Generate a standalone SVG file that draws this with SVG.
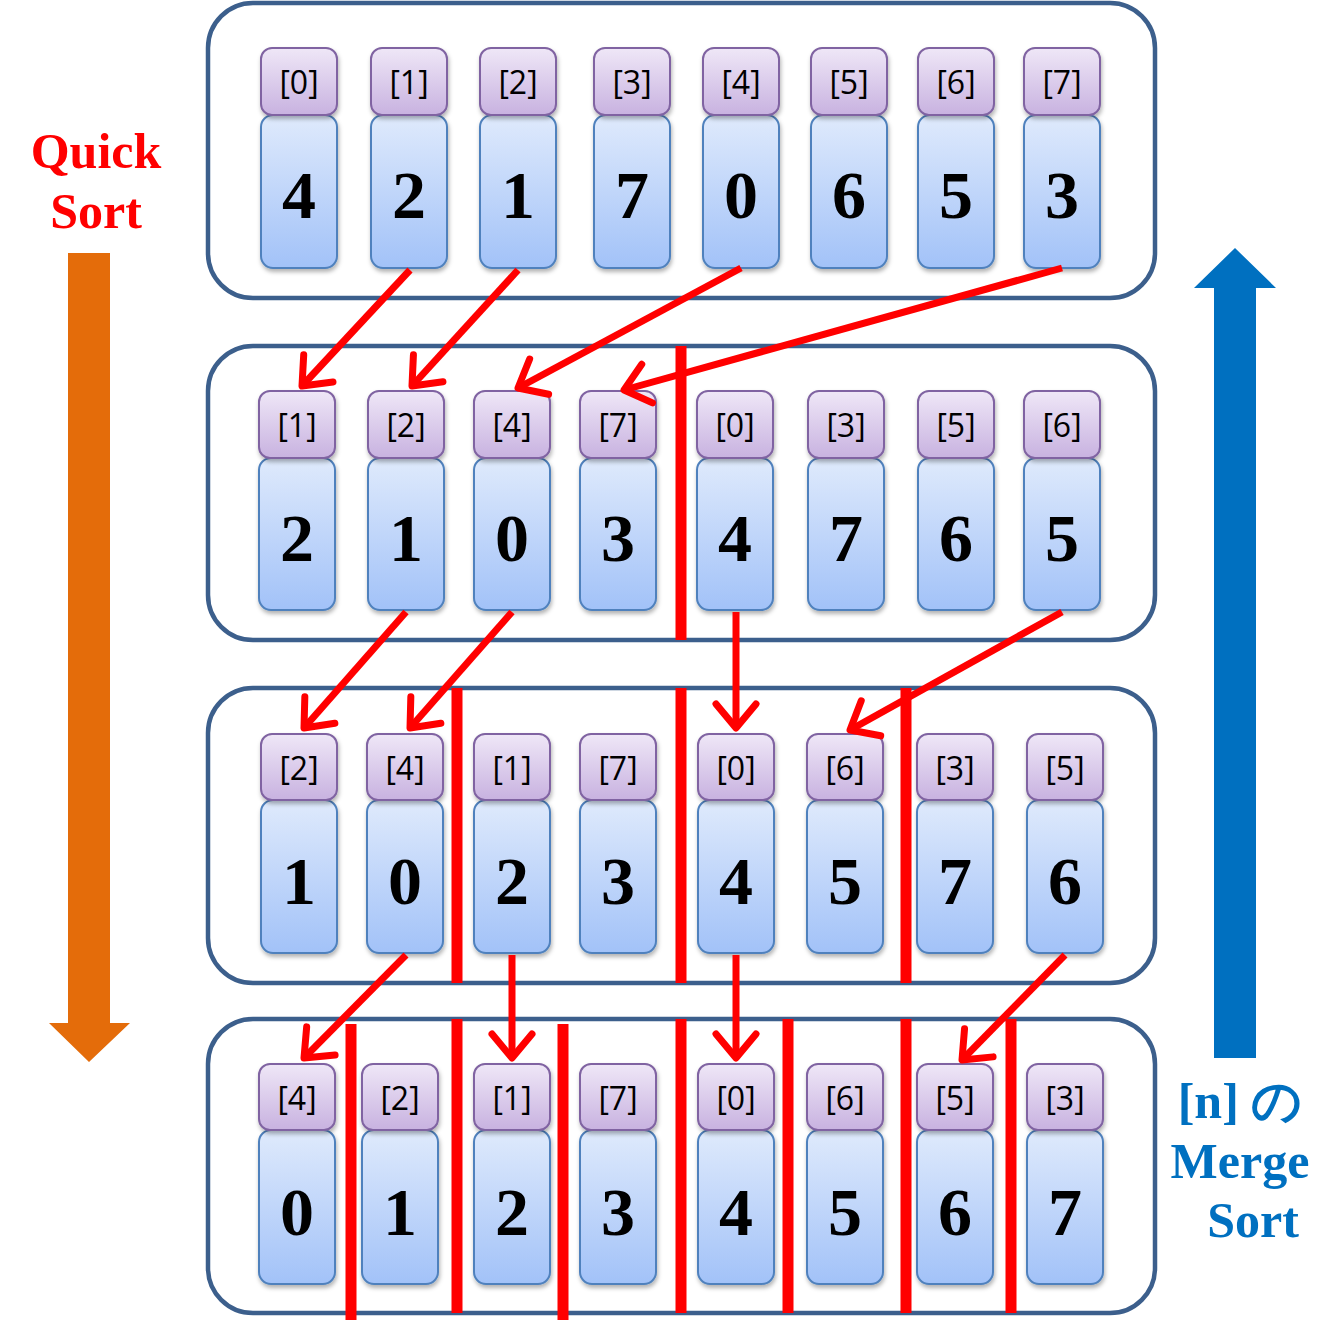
<svg xmlns="http://www.w3.org/2000/svg" width="1340" height="1320" viewBox="0 0 1340 1320">
<defs>
<linearGradient id="gi" x1="0" y1="0" x2="0" y2="1"><stop offset="0" stop-color="#efe7f7"/><stop offset="1" stop-color="#c8b2e0"/></linearGradient>
<linearGradient id="gv" x1="0" y1="0" x2="0" y2="1"><stop offset="0" stop-color="#dfeafc"/><stop offset="1" stop-color="#a2c2f8"/></linearGradient>
<filter id="sh" x="-20%" y="-20%" width="140%" height="140%"><feDropShadow dx="1" dy="3" stdDeviation="2" flood-color="#000" flood-opacity="0.3"/></filter>
<marker id="ah" markerUnits="userSpaceOnUse" markerWidth="60" markerHeight="60" refX="30" refY="30" orient="auto" viewBox="0 0 60 60"><path d="M6,10 L30,30 L6,50" fill="none" stroke="#ff0000" stroke-width="7" stroke-linecap="round" stroke-linejoin="round"/></marker>
<style>
.panel{fill:#fff;stroke:#3c5f8c;stroke-width:4.5}
.ib{fill:url(#gi);stroke:#8064a2;stroke-width:2;filter:url(#sh)}
.vb{fill:url(#gv);stroke:#4f81bd;stroke-width:2;filter:url(#sh)}
.it{font-family:"Open Sans","Liberation Sans",sans-serif;font-size:32px;fill:#000;text-anchor:middle}
.vt{font-family:"Liberation Serif",serif;font-weight:bold;font-size:68px;fill:#000;text-anchor:middle}
.sep{stroke:#ff0000;stroke-width:11}
.arr{stroke:#ff0000;stroke-width:7;fill:none;marker-end:url(#ah)}
.lab{font-family:"Liberation Serif",serif;font-weight:bold;font-size:50px}
</style>
</defs>
<rect class="panel" x="208" y="3" width="947" height="295" rx="45"/>
<rect class="panel" x="208" y="346" width="947" height="294" rx="45"/>
<rect class="panel" x="208" y="688" width="947" height="295" rx="45"/>
<rect class="panel" x="208" y="1019" width="947" height="294" rx="45"/>
<g id="row1">
<g id="r1c0"><rect class="vb" x="261" y="115" width="76" height="153" rx="12"/><rect class="ib" x="261" y="48" width="76" height="67" rx="11"/><text class="it" x="299" y="94">[0]</text><text class="vt" x="299" y="218">4</text></g>
<g id="r1c1"><rect class="vb" x="371" y="115" width="76" height="153" rx="12"/><rect class="ib" x="371" y="48" width="76" height="67" rx="11"/><text class="it" x="409" y="94">[1]</text><text class="vt" x="409" y="218">2</text></g>
<g id="r1c2"><rect class="vb" x="480" y="115" width="76" height="153" rx="12"/><rect class="ib" x="480" y="48" width="76" height="67" rx="11"/><text class="it" x="518" y="94">[2]</text><text class="vt" x="518" y="218">1</text></g>
<g id="r1c3"><rect class="vb" x="594" y="115" width="76" height="153" rx="12"/><rect class="ib" x="594" y="48" width="76" height="67" rx="11"/><text class="it" x="632" y="94">[3]</text><text class="vt" x="632" y="218">7</text></g>
<g id="r1c4"><rect class="vb" x="703" y="115" width="76" height="153" rx="12"/><rect class="ib" x="703" y="48" width="76" height="67" rx="11"/><text class="it" x="741" y="94">[4]</text><text class="vt" x="741" y="218">0</text></g>
<g id="r1c5"><rect class="vb" x="811" y="115" width="76" height="153" rx="12"/><rect class="ib" x="811" y="48" width="76" height="67" rx="11"/><text class="it" x="849" y="94">[5]</text><text class="vt" x="849" y="218">6</text></g>
<g id="r1c6"><rect class="vb" x="918" y="115" width="76" height="153" rx="12"/><rect class="ib" x="918" y="48" width="76" height="67" rx="11"/><text class="it" x="956" y="94">[6]</text><text class="vt" x="956" y="218">5</text></g>
<g id="r1c7"><rect class="vb" x="1024" y="115" width="76" height="153" rx="12"/><rect class="ib" x="1024" y="48" width="76" height="67" rx="11"/><text class="it" x="1062" y="94">[7]</text><text class="vt" x="1062" y="218">3</text></g>
</g>
<g id="row2">
<g id="r2c0"><rect class="vb" x="259" y="458" width="76" height="152" rx="12"/><rect class="ib" x="259" y="391" width="76" height="67" rx="11"/><text class="it" x="297" y="437">[1]</text><text class="vt" x="297" y="561">2</text></g>
<g id="r2c1"><rect class="vb" x="368" y="458" width="76" height="152" rx="12"/><rect class="ib" x="368" y="391" width="76" height="67" rx="11"/><text class="it" x="406" y="437">[2]</text><text class="vt" x="406" y="561">1</text></g>
<g id="r2c2"><rect class="vb" x="474" y="458" width="76" height="152" rx="12"/><rect class="ib" x="474" y="391" width="76" height="67" rx="11"/><text class="it" x="512" y="437">[4]</text><text class="vt" x="512" y="561">0</text></g>
<g id="r2c3"><rect class="vb" x="580" y="458" width="76" height="152" rx="12"/><rect class="ib" x="580" y="391" width="76" height="67" rx="11"/><text class="it" x="618" y="437">[7]</text><text class="vt" x="618" y="561">3</text></g>
<g id="r2c4"><rect class="vb" x="697" y="458" width="76" height="152" rx="12"/><rect class="ib" x="697" y="391" width="76" height="67" rx="11"/><text class="it" x="735" y="437">[0]</text><text class="vt" x="735" y="561">4</text></g>
<g id="r2c5"><rect class="vb" x="808" y="458" width="76" height="152" rx="12"/><rect class="ib" x="808" y="391" width="76" height="67" rx="11"/><text class="it" x="846" y="437">[3]</text><text class="vt" x="846" y="561">7</text></g>
<g id="r2c6"><rect class="vb" x="918" y="458" width="76" height="152" rx="12"/><rect class="ib" x="918" y="391" width="76" height="67" rx="11"/><text class="it" x="956" y="437">[5]</text><text class="vt" x="956" y="561">6</text></g>
<g id="r2c7"><rect class="vb" x="1024" y="458" width="76" height="152" rx="12"/><rect class="ib" x="1024" y="391" width="76" height="67" rx="11"/><text class="it" x="1062" y="437">[6]</text><text class="vt" x="1062" y="561">5</text></g>
</g>
<g id="row3">
<g id="r3c0"><rect class="vb" x="261" y="800" width="76" height="153" rx="12"/><rect class="ib" x="261" y="734" width="76" height="66" rx="11"/><text class="it" x="299" y="780">[2]</text><text class="vt" x="299" y="904">1</text></g>
<g id="r3c1"><rect class="vb" x="367" y="800" width="76" height="153" rx="12"/><rect class="ib" x="367" y="734" width="76" height="66" rx="11"/><text class="it" x="405" y="780">[4]</text><text class="vt" x="405" y="904">0</text></g>
<g id="r3c2"><rect class="vb" x="474" y="800" width="76" height="153" rx="12"/><rect class="ib" x="474" y="734" width="76" height="66" rx="11"/><text class="it" x="512" y="780">[1]</text><text class="vt" x="512" y="904">2</text></g>
<g id="r3c3"><rect class="vb" x="580" y="800" width="76" height="153" rx="12"/><rect class="ib" x="580" y="734" width="76" height="66" rx="11"/><text class="it" x="618" y="780">[7]</text><text class="vt" x="618" y="904">3</text></g>
<g id="r3c4"><rect class="vb" x="698" y="800" width="76" height="153" rx="12"/><rect class="ib" x="698" y="734" width="76" height="66" rx="11"/><text class="it" x="736" y="780">[0]</text><text class="vt" x="736" y="904">4</text></g>
<g id="r3c5"><rect class="vb" x="807" y="800" width="76" height="153" rx="12"/><rect class="ib" x="807" y="734" width="76" height="66" rx="11"/><text class="it" x="845" y="780">[6]</text><text class="vt" x="845" y="904">5</text></g>
<g id="r3c6"><rect class="vb" x="917" y="800" width="76" height="153" rx="12"/><rect class="ib" x="917" y="734" width="76" height="66" rx="11"/><text class="it" x="955" y="780">[3]</text><text class="vt" x="955" y="904">7</text></g>
<g id="r3c7"><rect class="vb" x="1027" y="800" width="76" height="153" rx="12"/><rect class="ib" x="1027" y="734" width="76" height="66" rx="11"/><text class="it" x="1065" y="780">[5]</text><text class="vt" x="1065" y="904">6</text></g>
</g>
<g id="row4">
<g id="r4c0"><rect class="vb" x="259" y="1130" width="76" height="154" rx="12"/><rect class="ib" x="259" y="1064" width="76" height="66" rx="11"/><text class="it" x="297" y="1110">[4]</text><text class="vt" x="297" y="1235">0</text></g>
<g id="r4c1"><rect class="vb" x="362" y="1130" width="76" height="154" rx="12"/><rect class="ib" x="362" y="1064" width="76" height="66" rx="11"/><text class="it" x="400" y="1110">[2]</text><text class="vt" x="400" y="1235">1</text></g>
<g id="r4c2"><rect class="vb" x="474" y="1130" width="76" height="154" rx="12"/><rect class="ib" x="474" y="1064" width="76" height="66" rx="11"/><text class="it" x="512" y="1110">[1]</text><text class="vt" x="512" y="1235">2</text></g>
<g id="r4c3"><rect class="vb" x="580" y="1130" width="76" height="154" rx="12"/><rect class="ib" x="580" y="1064" width="76" height="66" rx="11"/><text class="it" x="618" y="1110">[7]</text><text class="vt" x="618" y="1235">3</text></g>
<g id="r4c4"><rect class="vb" x="698" y="1130" width="76" height="154" rx="12"/><rect class="ib" x="698" y="1064" width="76" height="66" rx="11"/><text class="it" x="736" y="1110">[0]</text><text class="vt" x="736" y="1235">4</text></g>
<g id="r4c5"><rect class="vb" x="807" y="1130" width="76" height="154" rx="12"/><rect class="ib" x="807" y="1064" width="76" height="66" rx="11"/><text class="it" x="845" y="1110">[6]</text><text class="vt" x="845" y="1235">5</text></g>
<g id="r4c6"><rect class="vb" x="917" y="1130" width="76" height="154" rx="12"/><rect class="ib" x="917" y="1064" width="76" height="66" rx="11"/><text class="it" x="955" y="1110">[5]</text><text class="vt" x="955" y="1235">6</text></g>
<g id="r4c7"><rect class="vb" x="1027" y="1130" width="76" height="154" rx="12"/><rect class="ib" x="1027" y="1064" width="76" height="66" rx="11"/><text class="it" x="1065" y="1110">[3]</text><text class="vt" x="1065" y="1235">7</text></g>
</g>
<g id="separators">
<line class="sep" x1="681" y1="346" x2="681" y2="640"/>
<line class="sep" x1="457" y1="688" x2="457" y2="983"/>
<line class="sep" x1="681" y1="688" x2="681" y2="983"/>
<line class="sep" x1="906" y1="688" x2="906" y2="983"/>
<line class="sep" x1="351" y1="1024" x2="351" y2="1320"/>
<line class="sep" x1="457" y1="1019" x2="457" y2="1313"/>
<line class="sep" x1="563" y1="1024" x2="563" y2="1320"/>
<line class="sep" x1="681" y1="1019" x2="681" y2="1313"/>
<line class="sep" x1="788" y1="1019" x2="788" y2="1313"/>
<line class="sep" x1="906" y1="1019" x2="906" y2="1313"/>
<line class="sep" x1="1011" y1="1019" x2="1011" y2="1313"/>
</g>
<g id="connectors">
<line class="arr" x1="410" y1="270" x2="302" y2="386"/>
<line class="arr" x1="518" y1="270" x2="412" y2="386"/>
<line class="arr" x1="741" y1="268" x2="518" y2="388"/>
<line class="arr" x1="1062" y1="268" x2="624" y2="390"/>
<line class="arr" x1="406" y1="612" x2="304" y2="728"/>
<line class="arr" x1="512" y1="612" x2="410" y2="728"/>
<line class="arr" x1="736" y1="612" x2="736" y2="728"/>
<line class="arr" x1="1062" y1="612" x2="850" y2="730"/>
<line class="arr" x1="406" y1="955" x2="304" y2="1058"/>
<line class="arr" x1="512" y1="955" x2="512" y2="1058"/>
<line class="arr" x1="736" y1="955" x2="736" y2="1058"/>
<line class="arr" x1="1065" y1="955" x2="962" y2="1060"/>
</g>
<g id="quick-arrow"><path d="M68,253 H110 V1023 H130 L89,1062 L49,1023 H68 Z" fill="#e46c0a"/></g>
<g id="merge-arrow"><path d="M1214,1058 V288 H1194 L1235,248 L1276,288 H1256 V1058 Z" fill="#0070c0"/></g>
<g id="quick-label"><text class="lab" x="96" y="168" fill="#ff0000" text-anchor="middle">Quick</text><text class="lab" x="96" y="228" fill="#ff0000" text-anchor="middle">Sort</text></g>
<g id="merge-label"><text class="lab" x="1240" y="1118" fill="#0070c0" text-anchor="middle" font-family="'Liberation Serif','Noto Sans CJK JP',serif">[n] の</text><text class="lab" x="1240" y="1178" fill="#0070c0" text-anchor="middle">Merge</text><text class="lab" x="1253" y="1237" fill="#0070c0" text-anchor="middle">Sort</text></g>
</svg>
